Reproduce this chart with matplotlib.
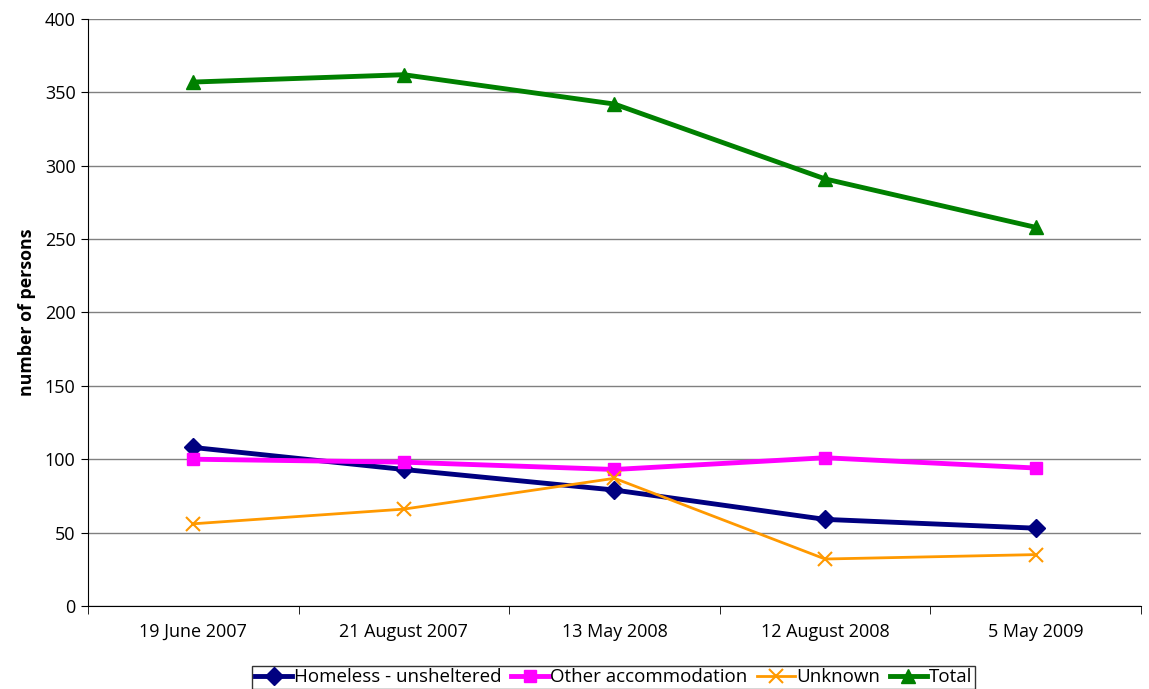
import numpy as np
import matplotlib
matplotlib.use("Agg")
from matplotlib import pyplot as plt

plt.rcParams['font.family'] = ['Open Sans', 'DejaVu Sans']

dates = ['19 June 2007', '21 August 2007', '13 May 2008', '12 August 2008', '5 May 2009']
homeless = [108, 93, 79, 59, 53]
other = [100, 98, 93, 101, 94]
unknown = [56, 66, 87, 32, 35]
total = [357, 362, 342, 291, 258]

fig = plt.figure(figsize=(11.49, 6.89), dpi=100)
ax = fig.add_axes([0.0766, 0.1205, 0.9164, 0.852])
x = np.arange(len(dates))

ax.plot(x, homeless, color='#000080', lw=3.5, marker='D', ms=9, label='Homeless - unsheltered')
ax.plot(x, other, color='#ff00ff', lw=3.5, marker='s', ms=9, label='Other accommodation')
ax.plot(x, unknown, color='#ff9900', lw=2, marker='x', ms=10, mew=1.5, label='Unknown')
ax.plot(x, total, color='#008000', lw=3.5, marker='^', ms=10, label='Total')

ax.set_xlim(-0.5, 4.5)
ax.set_ylim(0, 400)
ax.set_yticks(range(0, 401, 50))
ax.set_xticks(x)
ax.set_xticklabels(dates, fontsize=13)
ax.set_xticks(np.arange(-0.5, 5, 1), minor=True)
ax.tick_params(axis='x', which='major', length=0, pad=12)
ax.tick_params(axis='x', which='minor', length=6, direction='out', color='black')
ax.tick_params(axis='y', length=5, direction='out', labelsize=13, pad=4)
ax.grid(axis='y', color='#808080', lw=1)
ax.set_axisbelow(True)
for s in ['top', 'right']:
    ax.spines[s].set_visible(False)
ax.spines['left'].set_color('black')
ax.spines['bottom'].set_color('black')
ax.set_ylabel('number of persons', fontsize=12.8, fontweight='bold', labelpad=6)

leg = fig.legend(loc='upper center', bbox_to_anchor=(0.534, 0.034), ncol=4, fontsize=13.5,
                 frameon=True, fancybox=False, edgecolor='black', handlelength=2.0,
                 handletextpad=0.1, columnspacing=0.5, borderpad=0.15, borderaxespad=0)
leg.get_frame().set_linewidth(1)

fig.savefig('out.png', dpi=100)
